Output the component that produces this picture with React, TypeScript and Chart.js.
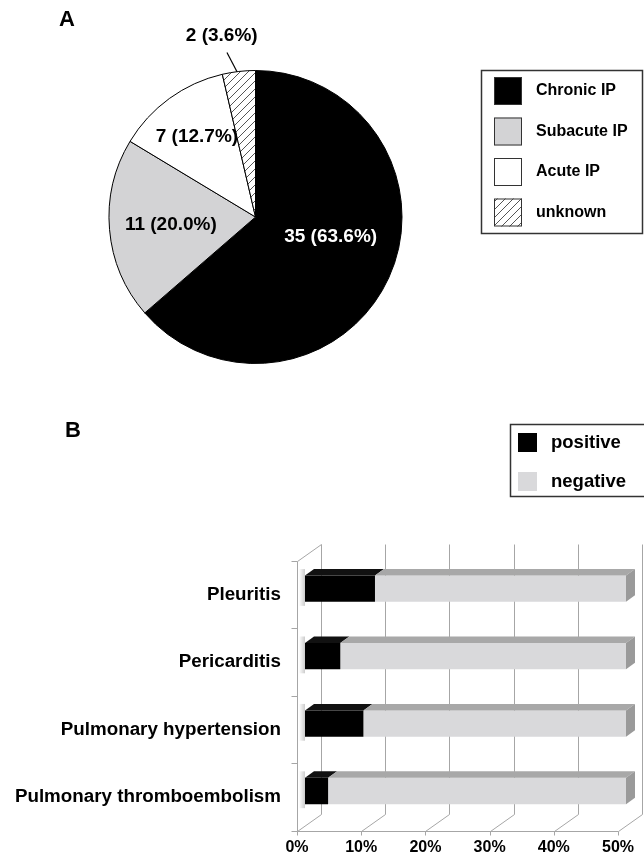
import React, { useEffect, useRef } from 'react';
import { Chart, registerables } from 'chart.js';

Chart.register(...registerables);

const FONT_FAMILY = "'Liberation Sans', Arial, Helvetica, sans-serif";

// ---------- Panel A data ----------
const pieCategories = ['Chronic IP', 'Subacute IP', 'Acute IP', 'unknown'];
const pieCounts = [35, 11, 7, 2];
const piePercentLabels = ['63.6%', '20.0%', '12.7%', '3.6%'];

// ---------- Panel B data ----------
const barCategories = ['Pleuritis', 'Pericarditis', 'Pulmonary hypertension', 'Pulmonary thromboembolism'];
const barSeriesNames = ['positive', 'negative'];
const positiveValues = [10.9, 5.5, 9.1, 3.6];
const negativeValues = [89.1, 94.5, 90.9, 96.4];
const xTickValues = [0, 10, 20, 30, 40, 50];
const xTickSuffix = '%';

// ---------- styles ----------
const pieLabelColors = ['#ffffff', '#000000', '#000000', '#000000'];
const pieLabelRadius = [0.53, 0.58, 0.68, 1.26];
const pieLabelTurnDeg = [-10, 0, 0, -4];
const pieLeader = [false, false, false, true];

const barFrontColors = ['#000000', '#d9d9db'];
const barTopColors = ['#111111', '#a8a8a8'];
const barSideColor = '#9a9a9a';
const gridColor = '#a6a6a6';
const WALL = { dx: 24, dy: -17 };
const FACE = { dx: 8, dy: -6 };
const BAR_DEPTH = { dx: 9, dy: -6.5 };

function makeHatch(): CanvasPattern | string {
  const c = document.createElement('canvas');
  c.width = 8;
  c.height = 8;
  const g = c.getContext('2d');
  if (!g) return '#ffffff';
  g.fillStyle = '#ffffff';
  g.fillRect(0, 0, 8, 8);
  g.strokeStyle = '#555555';
  g.lineWidth = 1;
  g.beginPath();
  g.moveTo(0, 8);
  g.lineTo(8, 0);
  g.moveTo(-1, 1);
  g.lineTo(1, -1);
  g.moveTo(7, 9);
  g.lineTo(9, 7);
  g.stroke();
  return g.createPattern(c, 'repeat') || '#ffffff';
}

const pieDecor = {
  id: 'pieDecor',
  afterDraw(chart: any) {
    const ctx: CanvasRenderingContext2D = chart.ctx;
    const meta = chart.getDatasetMeta(0);
    const ds = chart.data.datasets[0];
    ctx.save();
    ctx.textAlign = 'center';
    ctx.textBaseline = 'middle';
    ctx.font = `bold 19px ${FONT_FAMILY}`;
    meta.data.forEach((arc: any, i: number) => {
      const p = arc.getProps(['x', 'y', 'startAngle', 'endAngle', 'outerRadius'], true);
      const mid = (p.startAngle + p.endAngle) / 2;
      const a = mid + (pieLabelTurnDeg[i] * Math.PI) / 180;
      const r = p.outerRadius * pieLabelRadius[i];
      const lx = p.x + Math.cos(a) * r;
      const ly = p.y + Math.sin(a) * r;
      if (pieLeader[i]) {
        const a1 = mid - (0.7 * Math.PI) / 180;
        const a2 = mid - (3.3 * Math.PI) / 180;
        ctx.strokeStyle = '#000';
        ctx.lineWidth = 1.2;
        ctx.beginPath();
        ctx.moveTo(p.x + Math.cos(a1) * p.outerRadius, p.y + Math.sin(a1) * p.outerRadius);
        ctx.lineTo(p.x + Math.cos(a2) * p.outerRadius * 1.14, p.y + Math.sin(a2) * p.outerRadius * 1.14);
        ctx.stroke();
      }
      ctx.fillStyle = pieLabelColors[i];
      ctx.fillText(`${ds.data[i]} (${piePercentLabels[i]})`, lx, ly);
    });

    // legend
    ctx.lineWidth = 1.5;
    ctx.strokeStyle = '#333';
    ctx.strokeRect(481.5, 70.5, 161, 163);
    (chart.data.labels as string[]).forEach((lab, i) => {
      const sy = 77 + i * 40.5;
      ctx.fillStyle = ds.backgroundColor[i];
      ctx.fillRect(494, sy, 28, 28);
      ctx.lineWidth = 1;
      ctx.strokeStyle = '#333';
      ctx.strokeRect(494.5, sy + 0.5, 27, 27);
      ctx.fillStyle = '#000';
      ctx.font = `bold 16px ${FONT_FAMILY}`;
      ctx.textAlign = 'left';
      ctx.textBaseline = 'middle';
      ctx.fillText(lab, 536, sy + 14);
    });

    // panel letter
    ctx.font = `bold 22px ${FONT_FAMILY}`;
    ctx.textAlign = 'center';
    ctx.fillStyle = '#000';
    ctx.fillText('A', 67, 20);
    ctx.restore();
  },
};

const bar3d = {
  id: 'bar3d',
  beforeDatasetsDraw(chart: any) {
    const ctx: CanvasRenderingContext2D = chart.ctx;
    const a = chart.chartArea;
    const xs = chart.scales.x;
    const ys = chart.scales.y;
    const crisp = (v: number) => Math.round(v) + 0.5;
    ctx.save();
    ctx.strokeStyle = gridColor;
    ctx.lineWidth = 1;
    ctx.beginPath();
    const L = crisp(a.left);
    const B = crisp(a.bottom);
    const T = crisp(a.top);
    xTickValues.forEach((v) => {
      const px = crisp(xs.getPixelForValue(v));
      ctx.moveTo(px + WALL.dx, T + WALL.dy);
      ctx.lineTo(px + WALL.dx, B + WALL.dy);
      ctx.moveTo(px, B);
      ctx.lineTo(px + WALL.dx, B + WALL.dy);
      ctx.moveTo(px, B);
      ctx.lineTo(px, B + 4);
    });
    const R = crisp(xs.getPixelForValue(xTickValues[xTickValues.length - 1]));
    ctx.moveTo(L, T);
    ctx.lineTo(L, B);
    ctx.lineTo(R, B);
    ctx.moveTo(L, T);
    ctx.lineTo(L + WALL.dx, T + WALL.dy);
    const n = barCategories.length;
    for (let i = 0; i <= n; i++) {
      let y: number;
      if (i === 0) y = a.top;
      else if (i === n) y = a.bottom;
      else y = (ys.getPixelForValue(i - 1) + ys.getPixelForValue(i)) / 2;
      y = crisp(y);
      ctx.moveTo(L - 6, y);
      ctx.lineTo(L, y);
    }
    ctx.stroke();

    ctx.translate(FACE.dx, FACE.dy);
    const meta0 = chart.getDatasetMeta(0);
    meta0.data.forEach((el: any) => {
      const p = el.getProps(['y', 'base', 'height'], true);
      const x0 = p.base;
      const top = p.y - p.height / 2 + BAR_DEPTH.dy;
      const bot = p.y + p.height / 2 + 4;
      const g = ctx.createLinearGradient(x0 - 6, 0, x0, 0);
      g.addColorStop(0, 'rgba(0,0,0,0)');
      g.addColorStop(1, 'rgba(0,0,0,0.2)');
      ctx.fillStyle = g;
      ctx.fillRect(x0 - 6, top, 6, bot - top);
    });
  },
  afterDatasetsDraw(chart: any) {
    const ctx: CanvasRenderingContext2D = chart.ctx;
    const a = chart.chartArea;
    chart.data.datasets.forEach((_ds: any, di: number) => {
      const meta = chart.getDatasetMeta(di);
      meta.data.forEach((el: any) => {
        const p = el.getProps(['x', 'y', 'base', 'height'], true);
        const lo = Math.min(p.base, p.x);
        const hi = Math.max(p.base, p.x);
        const x0 = Math.max(lo, a.left);
        const x1 = Math.min(hi, a.right);
        if (x1 <= x0) return;
        const top = p.y - p.height / 2;
        const bot = p.y + p.height / 2;
        ctx.fillStyle = barTopColors[di];
        ctx.beginPath();
        ctx.moveTo(x0, top);
        ctx.lineTo(x1, top);
        ctx.lineTo(x1 + BAR_DEPTH.dx, top + BAR_DEPTH.dy);
        ctx.lineTo(x0 + BAR_DEPTH.dx, top + BAR_DEPTH.dy);
        ctx.closePath();
        ctx.fill();
        if (hi >= a.right - 0.5) {
          ctx.fillStyle = barSideColor;
          ctx.beginPath();
          ctx.moveTo(x1, top);
          ctx.lineTo(x1 + BAR_DEPTH.dx, top + BAR_DEPTH.dy);
          ctx.lineTo(x1 + BAR_DEPTH.dx, bot + BAR_DEPTH.dy);
          ctx.lineTo(x1, bot);
          ctx.closePath();
          ctx.fill();
        }
      });
    });
    ctx.restore();
  },
  afterDraw(chart: any) {
    const ctx: CanvasRenderingContext2D = chart.ctx;
    ctx.save();
    ctx.lineWidth = 1.5;
    ctx.strokeStyle = '#333';
    ctx.strokeRect(510.5, 24.5, 140, 72);
    chart.data.datasets.forEach((ds: any, i: number) => {
      const sy = 33 + i * 39;
      ctx.fillStyle = ds.backgroundColor;
      ctx.fillRect(518, sy, 19, 19);
      ctx.fillStyle = '#000';
      ctx.font = `bold 18.5px ${FONT_FAMILY}`;
      ctx.textAlign = 'left';
      ctx.textBaseline = 'middle';
      ctx.fillText(ds.label, 551, sy + 9.5);
    });
    ctx.font = `bold 22px ${FONT_FAMILY}`;
    ctx.textAlign = 'center';
    ctx.textBaseline = 'middle';
    ctx.fillStyle = '#000';
    ctx.fillText('B', 73, 31);
    ctx.restore();
  },
};

export default function App() {
  const pieRef = useRef<HTMLCanvasElement>(null);
  const barRef = useRef<HTMLCanvasElement>(null);

  useEffect(() => {
    const hatch = makeHatch();
    const pie = new Chart(pieRef.current as HTMLCanvasElement, {
      type: 'pie',
      data: {
        labels: pieCategories,
        datasets: [
          {
            data: pieCounts,
            backgroundColor: ['#000000', '#d3d3d5', '#ffffff', hatch] as any,
            borderColor: '#000000',
            borderWidth: 1,
          },
        ],
      },
      options: {
        responsive: false,
        animation: false,
        devicePixelRatio: 1,
        layout: { padding: { left: 108, top: 70, right: 241, bottom: 36 } },
        plugins: { legend: { display: false }, tooltip: { enabled: false } },
      } as any,
      plugins: [pieDecor],
    });

    const bar = new Chart(barRef.current as HTMLCanvasElement, {
      type: 'bar',
      data: {
        labels: barCategories,
        datasets: [
          {
            label: barSeriesNames[0],
            data: positiveValues,
            backgroundColor: barFrontColors[0],
            borderWidth: 0,
            categoryPercentage: 1,
            barPercentage: 0.39,
          },
          {
            label: barSeriesNames[1],
            data: negativeValues,
            backgroundColor: barFrontColors[1],
            borderWidth: 0,
            categoryPercentage: 1,
            barPercentage: 0.39,
          },
        ],
      },
      options: {
        responsive: false,
        animation: false,
        devicePixelRatio: 1,
        indexAxis: 'y',
        layout: { padding: { top: 161, right: 26, bottom: 0, left: 0 } },
        plugins: { legend: { display: false }, tooltip: { enabled: false } },
        scales: {
          x: {
            stacked: true,
            min: 0,
            max: 50,
            position: 'bottom',
            afterBuildTicks: (s: any) => {
              s.ticks = xTickValues.map((v) => ({ value: v }));
            },
            ticks: {
              callback: (v: any) => `${v}${xTickSuffix}`,
              font: { family: FONT_FAMILY, size: 16, weight: 'bold' },
              color: '#000',
              padding: 7,
              maxRotation: 0,
              autoSkip: false,
            },
            grid: { display: false, drawTicks: false },
            border: { display: false },
            afterFit: (s: any) => {
              s.height = 22;
            },
          },
          y: {
            stacked: true,
            ticks: {
              font: { family: FONT_FAMILY, size: 18.8, weight: 'bold' },
              color: '#000',
              padding: 16,
              autoSkip: false,
            },
            grid: { display: false, drawTicks: false },
            border: { display: false },
            afterFit: (s: any) => {
              s.width = 297;
            },
          },
        },
      } as any,
      plugins: [bar3d],
    });

    return () => {
      pie.destroy();
      bar.destroy();
    };
  }, []);

  return (
    <div style={{ position: 'absolute', left: 0, top: 0, width: 644, height: 858, background: '#ffffff' }}>
      <canvas
        ref={pieRef}
        width={644}
        height={400}
        style={{ position: 'absolute', left: 0, top: 0, width: 644, height: 400, display: 'block' }}
      />
      <canvas
        ref={barRef}
        width={644}
        height={458}
        style={{ position: 'absolute', left: 0, top: 400, width: 644, height: 458, display: 'block' }}
      />
    </div>
  );
}
